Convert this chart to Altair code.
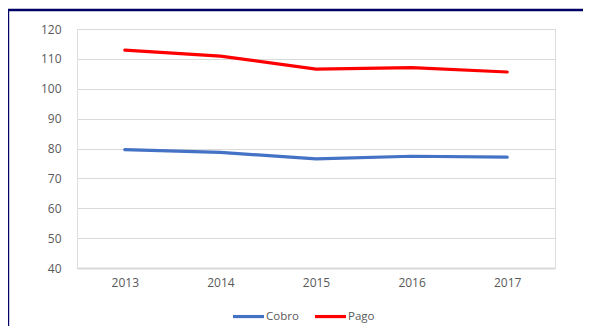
import altair as alt
import pandas as pd

years = ["2013", "2014", "2015", "2016", "2017"]
cobro = [79.6, 78.7, 76.5, 77.4, 77.1]
pago = [112.9, 110.9, 106.6, 107.1, 105.6]
series_names = ["Cobro", "Pago"]
series_colors = ["#4472C4", "#FF0000"]
y_ticks = [40, 50, 60, 70, 80, 90, 100, 110, 120]

rows = []
for name, vals in zip(series_names, [cobro, pago]):
    for yr, v in zip(years, vals):
        rows.append({"Año": yr, "Valor": v, "Serie": name})
df = pd.DataFrame(rows)

FONT = "Open Sans"
TXT = "#595959"

lines = alt.Chart(df).mark_line(strokeWidth=3.2, strokeCap="round").encode(
    x=alt.X("Año:N", sort=years,
            scale=alt.Scale(paddingInner=0, paddingOuter=0.5, align=0.5),
            axis=alt.Axis(title=None, labelAngle=0, ticks=False, grid=False,
                          domainColor="#d9d9d9", domainWidth=2,
                          labelPadding=9, labelFontSize=12, labelColor=TXT,
                          labelFont=FONT)),
    y=alt.Y("Valor:Q", scale=alt.Scale(domain=[40, 120], nice=False, zero=False),
            axis=alt.Axis(title=None, values=y_ticks, ticks=False, domain=False,
                          gridColor="#d9d9d9", gridWidth=1, labelPadding=16,
                          labelFontSize=12, labelColor=TXT, labelFont=FONT)),
    color=alt.Color("Serie:N",
                    scale=alt.Scale(domain=series_names, range=series_colors),
                    legend=alt.Legend(title=None, orient="none", direction="horizontal",
                                      legendX=154, legendY=270,
                                      symbolType="stroke", symbolSize=961,
                                      symbolStrokeWidth=3.2, labelOffset=0,
                                      columnPadding=9, labelFontSize=11.5,
                                      labelColor=TXT, labelFont=FONT)),
)

border = alt.Chart(pd.DataFrame({"a": [0]})).mark_rect(
    fill=None, stroke="#000066", strokeWidth=2.4, clip=False
).encode(
    x=alt.value(-69), x2=alt.value(540), y=alt.value(-19), y2=alt.value(320)
)

chart = alt.layer(lines, border).properties(
    width=478, height=239,
    autosize=alt.AutoSizeParams(type="none"),
    padding={"left": 69, "top": 21, "right": 28, "bottom": 58},
).configure_view(stroke=None).configure(background="white")

chart.save("out.html", embed_options={"renderer": "svg", "actions": False})
